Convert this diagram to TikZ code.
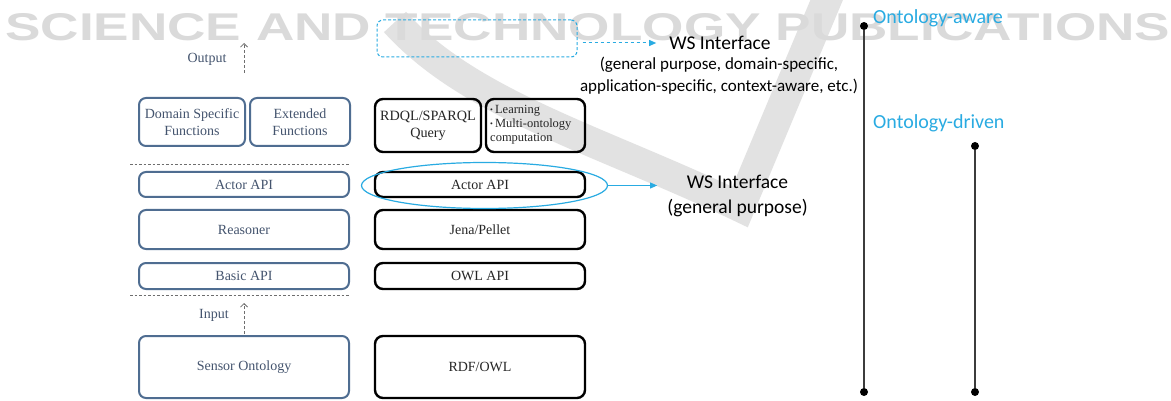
\documentclass[tikz,border=0pt]{standalone}
\usepackage{fontspec}
\setmainfont{Liberation Serif}
\newfontfamily\calfont{Carlito}
\newfontfamily\wmfont{Liberation Sans}
\usetikzlibrary{arrows.meta,shapes.geometric}
\definecolor{lborder}{RGB}{79,109,145}
\definecolor{ltext}{RGB}{68,84,110}
\definecolor{wsblue}{RGB}{41,171,226}
\definecolor{wmgray}{RGB}{218,218,218}
\definecolor{vgray}{RGB}{226,226,226}
\definecolor{sepgray}{RGB}{110,110,110}
\definecolor{vline}{RGB}{60,60,60}
\begin{document}
\begin{tikzpicture}[x=1pt,y=-1pt,
  lbox/.style={draw=lborder, line width=2pt, rounded corners=7pt, text=ltext,
    font=\fontsize{14}{17}\selectfont, inner sep=0pt, align=center},
  rbox/.style={draw=black, line width=2.4pt, rounded corners=8pt, text=black!85,
    font=\fontsize{14}{17}\selectfont, inner sep=0pt, align=center},
  sepline/.style={sepgray, line width=1pt, dash pattern=on 2.5pt off 2pt},
  ioarrow/.style={sepgray, line width=0.8pt, dash pattern=on 3pt off 2pt, -{Straight Barb[length=3.5pt,width=7pt]}},
  iolabel/.style={text=ltext, font=\fontsize{14}{16}\selectfont, inner sep=0pt},
  wstext/.style={font=\calfont\fontsize{19.5}{25}\selectfont, inner sep=0pt, align=center},
  wssub/.style={font=\calfont\fontsize{17}{22}\selectfont, inner sep=0pt, align=center},
  ontext/.style={font=\calfont\fontsize{20}{24}\selectfont, text=wsblue, inner sep=0pt, anchor=west},
  dot/.style={circle, fill=black, inner sep=0pt, minimum size=8pt},
]
\useasboundingbox (0,0) rectangle (1171,401);
\fill[white] (0,0) rectangle (1171,401);

% watermark
\draw[vgray, line width=30pt] (395,22) .. controls (470,105) and (600,140) .. (740,207) -- (830,-8);
\node[anchor=west, text=wmgray, inner sep=0pt] (wm) at (5,27) {\resizebox{1165pt}{27pt}{\wmfont\bfseries SCIENCE AND TECHNOLOGY PUBLICATIONS}};

% left column
\node[lbox, minimum width=106, minimum height=48] (dsf) at (192,122) {Domain Specific\\Functions};
\node[lbox, minimum width=100, minimum height=48] (ext) at (300,122) {Extended\\Functions};
\node[lbox, minimum width=210, minimum height=25] (actL) at (244,184.5) {Actor API};
\node[lbox, minimum width=210, minimum height=39] (reas) at (244,229.5) {Reasoner};
\node[lbox, minimum width=210, minimum height=26] (basic) at (244,276) {Basic API};
\node[lbox, minimum width=210, minimum height=62] (sensor) at (244,367) {Sensor Ontology};

% separators
\coordinate (s1a) at (130,164.5); \coordinate (s1b) at (350,164.5);
\coordinate (s2a) at (130,295); \coordinate (s2b) at (350,295);
\draw[sepline] (s1a) -- (s1b);
\draw[sepline] (s2a) -- (s2b);

% output / input
\coordinate (outS) at (244,73); \coordinate (outE) at (244,43);
\draw[ioarrow] (outS) -- (outE);
\node[iolabel] (outL) at (207,59) {Output};
\coordinate (inS) at (244,334); \coordinate (inE) at (244,303);
\draw[ioarrow] (inS) -- (inE);
\node[iolabel] (inL) at (214,315) {Input};

% right column
\node[draw=wsblue, line width=1pt, dash pattern=on 3pt off 2pt, rounded corners=6pt, minimum width=200, minimum height=37, inner sep=0pt] (dbox) at (477,38.5) {};
\node[rbox, minimum width=106, minimum height=53, font=\fontsize{14.2}{17}\selectfont] (rdql) at (428,125.5) {RDQL/SPARQL\\Query};
\node[rbox, minimum width=99, minimum height=53] (learnbox) at (535.5,125.5) {};
\node[anchor=west, inner sep=0pt, align=left, text=black!85, font=\fontsize{12.5}{14}\selectfont] (learn) at (490,125) {{\fontsize{8}{8}\selectfont\raisebox{1pt}{•}}\,Learning\\{\fontsize{8}{8}\selectfont\raisebox{1pt}{•}}\,Multi-ontology\\computation};
\node[rbox, minimum width=210, minimum height=25] (actR) at (480,184.5) {Actor API};
\node[rbox, minimum width=210, minimum height=39] (jena) at (480,229.5) {Jena/Pellet};
\node[rbox, minimum width=210, minimum height=26] (owl) at (480,276) {OWL API};
\node[rbox, minimum width=210, minimum height=62] (rdf) at (480,367) {RDF/OWL};

% ellipse
\node[ellipse, draw=wsblue, line width=1.2pt, minimum width=246, minimum height=46, inner sep=0pt] (ell) at (484.5,185.5) {};

% WS interfaces
\node[wstext] (wsT) at (720,43) {WS Interface};
\node[wssub] (wsSub) at (719,76) {(general purpose, domain-specific,\\application-specific, context-aware, etc.)};
\node[wstext] (wsL) at (737.5,195.5) {WS Interface\\(general purpose)};
\draw[wsblue, line width=1pt, dash pattern=on 3.5pt off 2.5pt, -{Triangle[length=7pt,width=6pt]}, shorten <=5pt, shorten >=13pt] (dbox.east |- wsT.west) -- (wsT.west);
\draw[wsblue, line width=1pt, -{Triangle[length=7pt,width=6pt]}, shorten >=10pt] (ell.east) -- (wsL.west |- ell.east);

% ontology lines
\node[dot] (a1) at (864,26) {};
\node[dot] (a2) at (864,392) {};
\node[dot] (d1) at (975,146) {};
\node[dot] (d2) at (975,392) {};
\draw[vline, line width=1.5pt] (a1) -- (a2);
\draw[vline, line width=1.5pt] (d1) -- (d2);
\node[ontext] (oaware) at (873,18) {Ontology-aware};
\node[ontext] (odriven) at (873,123) {Ontology-driven};
\end{tikzpicture}
\end{document}
